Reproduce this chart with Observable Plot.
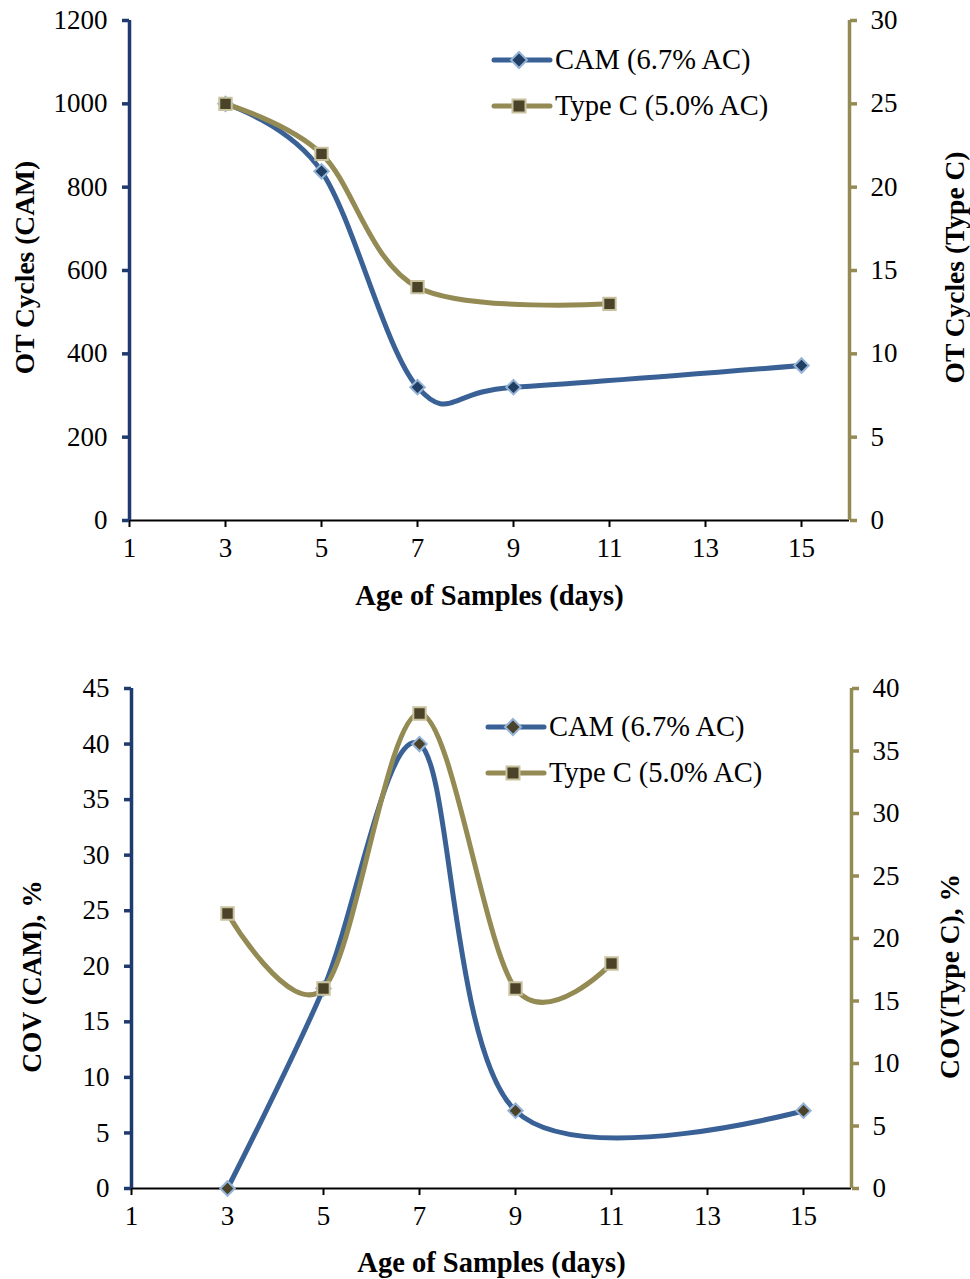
<!DOCTYPE html>
<html><head><meta charset="utf-8">
<script src="https://cdn.jsdelivr.net/npm/d3@7"></script>
<script src="https://cdn.jsdelivr.net/npm/@observablehq/plot@0.6"></script>
<style>
body{margin:0;background:#fff;font-family:"Liberation Serif","Times New Roman",serif;}
#wrap{position:relative;width:970px;height:1279px;}
.chart{position:absolute;left:0;}
.legend{position:absolute;font-size:28.5px;color:#000;}
.row{display:flex;align-items:center;height:46px;white-space:nowrap;}
.row svg{margin-right:2px;}
</style></head><body><div id="wrap"></div><script>
// ---- data ----
const xTicks = [1, 3, 5, 7, 9, 11, 13, 15];
const xDomain = [1, 16];
const xLabel = "Age of Samples (days)";

const camName = "CAM (6.7% AC)";
const typeCName = "Type C (5.0% AC)";

// chart 1: OT cycles
const camOTDays = [3, 5, 7, 9, 15];
const camOT = [1000, 838, 320, 320, 372];
const typeCOTDays = [3, 5, 7, 11];
const typeCOT = [25, 22, 14, 13];
const otLeftTicks = [0, 200, 400, 600, 800, 1000, 1200];
const otRightTicks = [0, 5, 10, 15, 20, 25, 30];
const otLeftLabel = "OT Cycles (CAM)";
const otRightLabel = "OT Cycles (Type C)";

// chart 2: COV
const camCOVDays = [3, 5, 7, 9, 15];
const camCOV = [0, 18, 40, 7, 7];
const typeCCOVDays = [3, 5, 7, 9, 11];
const typeCCOV = [22, 16, 38, 16, 18];
const covLeftTicks = [0, 5, 10, 15, 20, 25, 30, 35, 40, 45];
const covRightTicks = [0, 5, 10, 15, 20, 25, 30, 35, 40];
const covLeftLabel = "COV (CAM), %";
const covRightLabel = "COV(Type C), %";

// ---- colours ----
const navyAxis = "#1F3A6E";
const oliveAxis = "#948A54";
const camLine = "#3A6195";
const camMarkStroke = "#95B3D7";
const typeCLine = "#948A54";
const typeCMarkFill = "#4A4329";
const typeCMarkStroke = "#C9C29E";

const FONT = "Liberation Serif, Times New Roman, serif";

function makeChart(cfg) {
  const k = cfg.leftTicks[cfg.leftTicks.length - 1] / cfg.rightTicks[cfg.rightTicks.length - 1];
  const cam = cfg.camDays.map((d, i) => ({x: d, y: cfg.camVals[i]}));
  const tc = cfg.tcDays.map((d, i) => ({x: d, y: cfg.tcVals[i] * k}));
  const fmtR = d => String(Math.round(d / k * 1000) / 1000);
  return Plot.plot({
    width: 970,
    height: cfg.height,
    marginTop: cfg.mt, marginBottom: cfg.mb, marginLeft: cfg.ml, marginRight: cfg.mr,
    style: {fontFamily: FONT, fontSize: "27px", color: "#000", background: "transparent", overflow: "visible"},
    x: {domain: xDomain, axis: null},
    y: {domain: [0, cfg.leftTicks[cfg.leftTicks.length - 1]], axis: null},
    marks: [
      Plot.ruleY([0], {stroke: "#000", strokeWidth: 2}),
      Plot.ruleX([xDomain[0]], {stroke: navyAxis, strokeWidth: 3.5}),
      Plot.ruleX([xDomain[1]], {stroke: oliveAxis, strokeWidth: 3.5}),
      Plot.axisX({ticks: xTicks, tickSize: 7, tickPadding: 10, stroke: "#000", strokeWidth: 2, fill: "#000", fontSize: 27, tickFormat: d => String(d), label: null}),
      Plot.axisY({anchor: "left", ticks: cfg.leftTicks, tickSize: 7, tickPadding: 15, stroke: navyAxis, strokeWidth: 3.5, fill: "#000", fontSize: 27, tickFormat: d => String(d), label: null}),
      Plot.axisY({anchor: "right", ticks: cfg.rightTicks.map(v => v * k), tickSize: 7, tickPadding: 14, stroke: oliveAxis, strokeWidth: 3.5, fill: "#000", fontSize: 27, tickFormat: fmtR, label: null}),
      Plot.line(cam, {x: "x", y: "y", curve: "cardinal", stroke: camLine, strokeWidth: 5, strokeLinecap: "round", strokeLinejoin: "round"}),
      Plot.line(tc, {x: "x", y: "y", curve: "cardinal", stroke: typeCLine, strokeWidth: 5, strokeLinecap: "round", strokeLinejoin: "round"}),
      Plot.dot(cam, {x: "x", y: "y", symbol: "diamond2", r: 6.5, fill: cfg.camMarkFill, stroke: camMarkStroke, strokeWidth: 2}),
      Plot.dot(tc, {x: "x", y: "y", symbol: "square", r: 7, fill: typeCMarkFill, stroke: typeCMarkStroke, strokeWidth: 2}),
      Plot.text([xLabel], {text: d => d, frameAnchor: "bottom", dy: cfg.xTitleDy, lineAnchor: "middle", fontWeight: "bold", fontSize: 28.5, fill: "#000"}),
      Plot.text([cfg.leftLabel], {text: d => d, frameAnchor: "left", dx: cfg.leftTitleDx, dy: cfg.yTitleDy, rotate: -90, textAnchor: "middle", lineAnchor: "middle", fontWeight: "bold", fontSize: 27.5, fill: "#000"}),
      Plot.text([cfg.rightLabel], {text: d => d, frameAnchor: "right", dx: cfg.rightTitleDx, dy: cfg.yTitleDy, rotate: -90, textAnchor: "middle", lineAnchor: "middle", fontWeight: "bold", fontSize: 27.5, fill: "#000"})
    ]
  });
}

function swatch(lineColor, shape, fill, stroke) {
  const marker = shape === "diamond"
    ? `<polygon points="28,2 36,10 28,18 20,10" fill="${fill}" stroke="${stroke}" stroke-width="2"/>`
    : `<rect x="21.5" y="3.5" width="13" height="13" fill="${fill}" stroke="${stroke}" stroke-width="2"/>`;
  return `<svg width="62" height="20"><line x1="3" y1="10" x2="59" y2="10" stroke="${lineColor}" stroke-width="5" stroke-linecap="round"/>${marker}</svg>`;
}

function addLegend(left, top, camFill) {
  const div = document.createElement("div");
  div.className = "legend";
  div.style.left = left + "px";
  div.style.top = top + "px";
  div.innerHTML =
    `<div class="row">${swatch(camLine, "diamond", camFill, camMarkStroke)}<span>${camName}</span></div>` +
    `<div class="row">${swatch(typeCLine, "square", typeCMarkFill, typeCMarkStroke)}<span>${typeCName}</span></div>`;
  document.getElementById("wrap").appendChild(div);
}

const wrap = document.getElementById("wrap");

const c1 = makeChart({
  height: 640, mt: 20, mb: 120, ml: 129, mr: 121,
  camDays: camOTDays, camVals: camOT, tcDays: typeCOTDays, tcVals: typeCOT,
  leftTicks: otLeftTicks, rightTicks: otRightTicks,
  leftLabel: otLeftLabel, rightLabel: otRightLabel,
  camMarkFill: "#213F63",
  xTitleDy: 75, leftTitleDx: -104, rightTitleDx: 106, yTitleDy: -3
});
c1.classList.add("chart");
c1.style.top = "0px";
wrap.appendChild(c1);

const c2 = makeChart({
  height: 639, mt: 48, mb: 91, ml: 131, mr: 119,
  camDays: camCOVDays, camVals: camCOV, tcDays: typeCCOVDays, tcVals: typeCCOV,
  leftTicks: covLeftTicks, rightTicks: covRightTicks,
  leftLabel: covLeftLabel, rightLabel: covRightLabel,
  camMarkFill: "#4A4329",
  xTitleDy: 74, leftTitleDx: -99, rightTitleDx: 99, yTitleDy: 38
});
c2.classList.add("chart");
c2.style.top = "640px";
wrap.appendChild(c2);

addLegend(491, 37, "#213F63");
addLegend(485, 704, "#4A4329");
</script></body></html>
